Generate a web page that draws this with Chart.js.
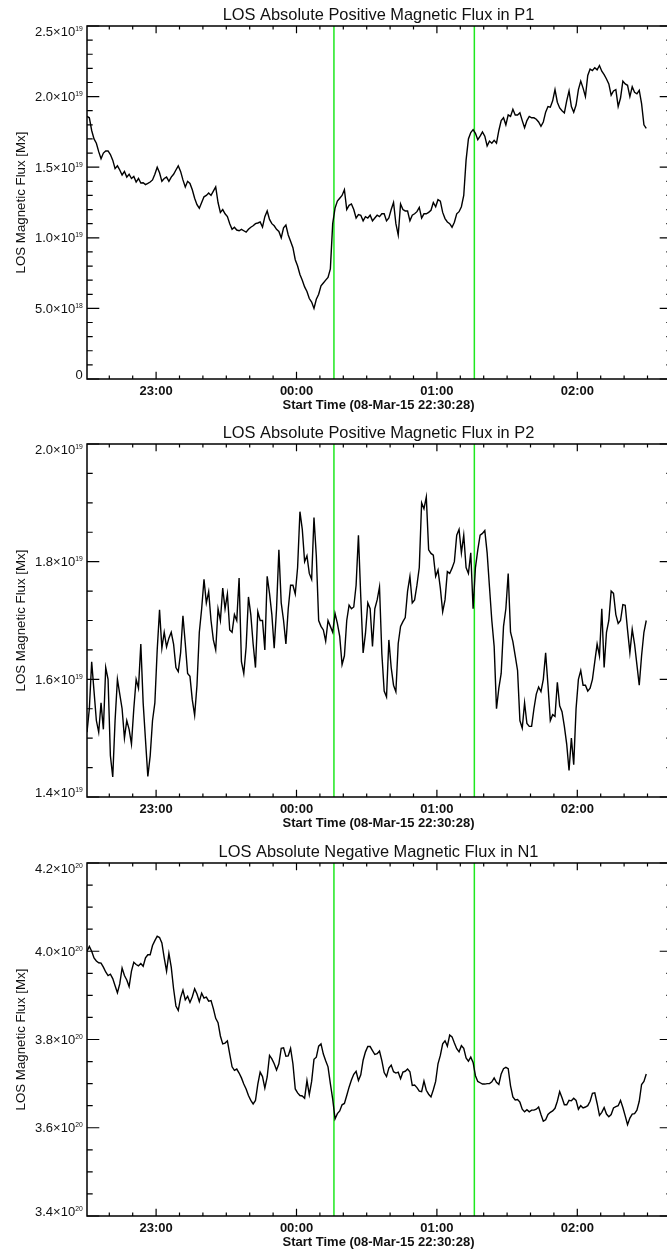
<!DOCTYPE html>
<html>
<head>
<meta charset="utf-8">
<script src="https://cdn.jsdelivr.net/npm/chart.js"></script>
<style>
  html, body { margin: 0; padding: 0; overflow: hidden; background: #fff; }
  canvas { position: absolute; left: 0; }
</style>
</head>
<body>
<canvas id="p1Chart" width="680" height="418" style="top:0px"></canvas>
<canvas id="p2Chart" width="680" height="418" style="top:418px"></canvas>
<canvas id="n1Chart" width="680" height="418" style="top:837px"></canvas>
<script>
// -------data------------

// one sample per minute, counted from the start time 22:30:28
const CADENCE = 1;
const minutes = [];
for (let i = 0; i < 240; i++) minutes.push(i * CADENCE);

const X_MAX = 250; // right edge of the plots, minutes after start

const startLabel = 'Start Time (08-Mar-15 22:30:28)';
const hourLabels = ['23:00', '00:00', '01:00', '02:00'];
const hourTicks = [29.53, 89.53, 149.53, 209.53];
const markerTimes = [105.53, 165.53]; // 00:16 and 01:16

// P1 flux, units of 1e19 Mx
const p1Flux = [
  1.86, 1.85, 1.76, 1.70, 1.67, 1.61, 1.56, 1.60, 1.615, 1.615,
  1.59, 1.55, 1.49, 1.51, 1.48, 1.445, 1.47, 1.43, 1.45, 1.42,
  1.435, 1.395, 1.42, 1.388, 1.39, 1.377, 1.385, 1.395, 1.41, 1.45,
  1.50, 1.46, 1.40, 1.42, 1.43, 1.40, 1.43, 1.45, 1.48, 1.51,
  1.47, 1.41, 1.36, 1.40, 1.385, 1.34, 1.28, 1.235, 1.21, 1.25,
  1.29, 1.30, 1.317, 1.30, 1.33, 1.36, 1.25, 1.18, 1.20, 1.17,
  1.15, 1.10, 1.06, 1.075, 1.055, 1.05, 1.06, 1.05, 1.04, 1.06,
  1.075, 1.085, 1.10, 1.105, 1.112, 1.076, 1.15, 1.19, 1.13, 1.10,
  1.085, 1.06, 1.045, 1.00, 1.07, 1.09, 1.02, 0.975, 0.93, 0.845,
  0.80, 0.74, 0.70, 0.652, 0.62, 0.57, 0.545, 0.50, 0.565, 0.60,
  0.66, 0.68, 0.70, 0.72, 0.78, 1.10, 1.21, 1.26, 1.28, 1.30,
  1.34, 1.20, 1.23, 1.24, 1.20, 1.14, 1.165, 1.16, 1.12, 1.15,
  1.14, 1.16, 1.12, 1.14, 1.16, 1.15, 1.17, 1.17, 1.12, 1.14,
  1.20, 1.25, 1.10, 1.02, 1.24, 1.20, 1.19, 1.19, 1.12, 1.16,
  1.17, 1.185, 1.215, 1.14, 1.17, 1.17, 1.18, 1.195, 1.25, 1.22,
  1.27, 1.26, 1.18, 1.136, 1.112, 1.10, 1.075, 1.11, 1.17, 1.185,
  1.22, 1.30, 1.55, 1.70, 1.745, 1.766, 1.74, 1.695, 1.72, 1.75,
  1.72, 1.65, 1.685, 1.67, 1.69, 1.67, 1.76, 1.83, 1.85, 1.80,
  1.87, 1.86, 1.91, 1.87, 1.87, 1.885, 1.83, 1.78, 1.83, 1.86,
  1.85, 1.85, 1.84, 1.82, 1.79, 1.82, 1.89, 1.93, 1.925, 1.97,
  2.05, 1.96, 1.92, 1.90, 1.885, 1.97, 2.04, 1.93, 1.89, 1.94,
  2.05, 2.11, 2.06, 2.00, 2.15, 2.195, 2.185, 2.205, 2.19, 2.22,
  2.18, 2.155, 2.125, 2.09, 2.01, 2.04, 2.05, 1.93, 1.99, 2.11,
  2.09, 2.08, 2.00, 2.07, 2.03, 2.02, 2.045, 1.95, 1.80, 1.775
];

// P2 flux, units of 1e19 Mx
const p2Flux = [
  1.51, 1.55, 1.63, 1.58, 1.53, 1.51, 1.56, 1.515, 1.62, 1.60,
  1.47, 1.434, 1.53, 1.60, 1.575, 1.55, 1.50, 1.53, 1.515, 1.49,
  1.55, 1.60, 1.585, 1.66, 1.56, 1.497, 1.435, 1.47, 1.53, 1.56,
  1.65, 1.718, 1.653, 1.68, 1.655, 1.67, 1.68, 1.66, 1.62, 1.613,
  1.645, 1.708, 1.661, 1.61, 1.605, 1.565, 1.539, 1.59, 1.68, 1.72,
  1.77, 1.73, 1.749, 1.70, 1.667, 1.65, 1.72, 1.70, 1.755, 1.72,
  1.745, 1.684, 1.68, 1.71, 1.70, 1.772, 1.63, 1.61, 1.655, 1.74,
  1.71, 1.66, 1.62, 1.715, 1.70, 1.70, 1.65, 1.775, 1.746, 1.71,
  1.653, 1.72, 1.82, 1.73, 1.70, 1.66, 1.72, 1.76, 1.76, 1.745,
  1.79, 1.885, 1.855, 1.80, 1.81, 1.78, 1.77, 1.875, 1.81, 1.70,
  1.69, 1.684, 1.665, 1.70, 1.69, 1.68, 1.712, 1.695, 1.673, 1.625,
  1.64, 1.70, 1.726, 1.72, 1.723, 1.76, 1.845, 1.74, 1.645, 1.678,
  1.73, 1.72, 1.656, 1.72, 1.735, 1.757, 1.644, 1.58, 1.57, 1.667,
  1.62, 1.59, 1.579, 1.661, 1.69, 1.698, 1.705, 1.75, 1.775, 1.73,
  1.735, 1.76, 1.79, 1.90, 1.89, 1.91, 1.82, 1.814, 1.811, 1.775,
  1.786, 1.755, 1.715, 1.735, 1.783, 1.78, 1.789, 1.80, 1.845, 1.855,
  1.815, 1.845, 1.79, 1.78, 1.815, 1.72, 1.79, 1.82, 1.845, 1.848,
  1.853, 1.815, 1.757, 1.70, 1.656, 1.55, 1.585, 1.61, 1.69, 1.72,
  1.78, 1.68, 1.664, 1.64, 1.615, 1.53, 1.517, 1.56, 1.525, 1.52,
  1.52, 1.55, 1.575, 1.587, 1.579, 1.60, 1.645, 1.59, 1.53, 1.54,
  1.537, 1.595, 1.555, 1.545, 1.52, 1.49, 1.445, 1.50, 1.455, 1.55,
  1.60, 1.615, 1.59, 1.59, 1.58, 1.585, 1.60, 1.63, 1.66, 1.64,
  1.72, 1.62, 1.68, 1.70, 1.75, 1.746, 1.71, 1.695, 1.70, 1.727,
  1.726, 1.684, 1.645, 1.685, 1.66, 1.625, 1.59, 1.64, 1.68, 1.70
];

// N1 flux, units of 1e20 Mx
const n1Flux = [
  4.00, 4.011, 4.00, 3.985, 3.978, 3.974, 3.973, 3.964, 3.953, 3.945,
  3.948, 3.938, 3.922, 3.906, 3.926, 3.962, 3.945, 3.935, 3.92, 3.955,
  3.975, 3.97, 3.967, 3.972, 3.966, 3.985, 3.992, 3.992, 4.013, 4.024,
  4.034, 4.031, 4.019, 3.985, 3.955, 3.995, 3.964, 3.915, 3.876, 3.866,
  3.895, 3.912, 3.89, 3.898, 3.884, 3.897, 3.915, 3.903, 3.886, 3.905,
  3.894, 3.896, 3.887, 3.888, 3.87, 3.848, 3.838, 3.808, 3.79, 3.792,
  3.797, 3.767, 3.738, 3.73, 3.733, 3.724, 3.713, 3.699, 3.688, 3.673,
  3.662, 3.654, 3.662, 3.699, 3.726, 3.716, 3.69, 3.715, 3.764, 3.756,
  3.745, 3.731, 3.745, 3.78, 3.781, 3.762, 3.763, 3.78, 3.745, 3.688,
  3.679, 3.673, 3.672, 3.667, 3.707, 3.675, 3.705, 3.755, 3.76, 3.785,
  3.79, 3.767, 3.752, 3.738, 3.70, 3.665, 3.62, 3.632, 3.638, 3.652,
  3.655, 3.673, 3.692, 3.708, 3.721, 3.728, 3.707, 3.72, 3.753, 3.772,
  3.784, 3.784, 3.775, 3.766, 3.768, 3.774, 3.752, 3.725, 3.716, 3.735,
  3.742, 3.727, 3.724, 3.726, 3.711, 3.726, 3.728, 3.733, 3.727, 3.696,
  3.697, 3.691, 3.683, 3.682, 3.706, 3.685, 3.676, 3.67, 3.686, 3.705,
  3.745, 3.764, 3.79, 3.797, 3.785, 3.81, 3.806, 3.792, 3.779, 3.772,
  3.786, 3.78, 3.758, 3.751, 3.76, 3.748, 3.718, 3.705, 3.702, 3.699,
  3.699, 3.70, 3.70, 3.704, 3.713, 3.703, 3.698, 3.722, 3.734, 3.737,
  3.734, 3.695, 3.67, 3.663, 3.664, 3.658, 3.642, 3.636, 3.641, 3.636,
  3.64, 3.64, 3.642, 3.647, 3.63, 3.615, 3.618, 3.63, 3.635, 3.638,
  3.644, 3.66, 3.682, 3.668, 3.652, 3.652, 3.662, 3.661, 3.667, 3.662,
  3.642, 3.65, 3.645, 3.647, 3.65, 3.66, 3.678, 3.679, 3.655, 3.628,
  3.635, 3.646, 3.631, 3.625, 3.63, 3.645, 3.648, 3.65, 3.662, 3.646,
  3.627, 3.607, 3.622, 3.631, 3.632, 3.64, 3.66, 3.698, 3.705, 3.722
];

// y tick values and their labels [mantissa, exponent]
const p1Ticks = [0, 0.5, 1.0, 1.5, 2.0, 2.5];
const p1TickLabels = [['0', ''], ['5.0\u00d710', '18'], ['1.0\u00d710', '19'], ['1.5\u00d710', '19'], ['2.0\u00d710', '19'], ['2.5\u00d710', '19']];
const p2Ticks = [1.4, 1.6, 1.8, 2.0];
const p2TickLabels = [['1.4\u00d710', '19'], ['1.6\u00d710', '19'], ['1.8\u00d710', '19'], ['2.0\u00d710', '19']];
const n1Ticks = [3.4, 3.6, 3.8, 4.0, 4.2];
const n1TickLabels = [['3.4\u00d710', '20'], ['3.6\u00d710', '20'], ['3.8\u00d710', '20'], ['4.0\u00d710', '20'], ['4.2\u00d710', '20']];

// -------axes drawn IDL style (ticks pointing in)------------

const FONT = '"Liberation Sans", Arial, Helvetica, sans-serif';

function idlAxes(p) {
  return {
    id: 'idlAxes',
    afterDraw(chart) {
      const ctx = chart.ctx;
      const a = chart.chartArea;
      const xs = chart.scales.x, ys = chart.scales.y;
      ctx.save();
      ctx.strokeStyle = '#000';
      ctx.lineWidth = 1.2;
      ctx.beginPath();
      // 10 minute ticks, longer on the hours
      for (let t = hourTicks[0] - 20; t < xs.max; t += 10) {
        const px = xs.getPixelForValue(t);
        const len = hourTicks.some(h => Math.abs(h - t) < 0.01) ? 7.3 : 3.4;
        ctx.moveTo(px, a.bottom); ctx.lineTo(px, a.bottom - len);
        ctx.moveTo(px, a.top); ctx.lineTo(px, a.top + len);
      }
      const n = Math.round((ys.max - ys.min) / p.minorStep);
      for (let i = 0; i <= n; i++) {
        const v = ys.min + i * p.minorStep;
        const py = ys.getPixelForValue(v);
        const len = p.ticks.some(m => Math.abs(m - v) < 1e-6) ? 12.3 : 5.7;
        ctx.moveTo(a.left, py); ctx.lineTo(a.left + len, py);
        ctx.moveTo(a.right, py); ctx.lineTo(a.right - len, py);
      }
      ctx.stroke();

      ctx.lineWidth = 1.5;
      ctx.strokeRect(a.left, a.top, a.right - a.left, a.bottom - a.top);

      ctx.fillStyle = '#111';
      const cx = 378.5;

      // title
      ctx.font = '16.4px ' + FONT;
      ctx.textAlign = 'center';
      ctx.textBaseline = 'alphabetic';
      ctx.fillText(p.title, cx, a.top - 6.3);

      // time labels
      ctx.font = 'bold 13px ' + FONT;
      hourTicks.forEach((t, i) => {
        ctx.fillText(hourLabels[i], xs.getPixelForValue(t), a.bottom + 16.3);
      });
      ctx.fillText(startLabel, cx, a.bottom + 30);

      // flux labels with exponent
      ctx.textAlign = 'right';
      p.ticks.forEach((v, i) => {
        const py = ys.getPixelForValue(v);
        let base = py + 4.6;
        if (i === p.ticks.length - 1) base = py + 9.8;
        if (i === 0) base = py;
        const lab = p.tickLabels[i];
        let ew = 0;
        if (lab[1]) {
          ctx.font = '6.8px ' + FONT;
          ew = ctx.measureText(lab[1]).width;
          ctx.fillText(lab[1], 82.7, base - 5.1);
        }
        ctx.font = '13px ' + FONT;
        ctx.fillText(lab[0], 82.7 - ew, base);
      });

      // y title
      ctx.translate(21.5, (a.top + a.bottom) / 2);
      ctx.rotate(-Math.PI / 2);
      ctx.textAlign = 'center';
      ctx.textBaseline = 'middle';
      ctx.font = '13.3px ' + FONT;
      ctx.fillText('LOS Magnetic Flux [Mx]', 0, 0);
      ctx.restore();
    }
  };
}

function makePanel(id, title, flux, yMin, yMax, ticks, tickLabels, minorStep) {
  const datasets = [{
    data: minutes.map((t, i) => ({ x: t, y: flux[i] })),
    borderColor: '#000',
    borderWidth: 1.4,
    pointRadius: 0,
    tension: 0
  }];
  markerTimes.forEach(t => {
    datasets.push({
      data: [{ x: t, y: yMin }, { x: t, y: yMax }],
      borderColor: '#1ee81e',
      borderWidth: 1.5,
      pointRadius: 0
    });
  });

  return new Chart(document.getElementById(id), {
    type: 'line',
    data: { datasets: datasets },
    options: {
      responsive: false,
      animation: false,
      devicePixelRatio: 1,
      layout: { padding: { left: 87, top: 26, right: 8, bottom: 39 } },
      scales: {
        x: { type: 'linear', min: 0, max: X_MAX, display: false },
        y: { type: 'linear', min: yMin, max: yMax, display: false }
      },
      plugins: {
        legend: { display: false },
        tooltip: { enabled: false }
      }
    },
    plugins: [idlAxes({ title: title, ticks: ticks, tickLabels: tickLabels, minorStep: minorStep })]
  });
}

// ---------P1------------
makePanel('p1Chart', 'LOS Absolute Positive Magnetic Flux in P1', p1Flux, 0, 2.5, p1Ticks, p1TickLabels, 0.1);

// ---------P2------------
makePanel('p2Chart', 'LOS Absolute Positive Magnetic Flux in P2', p2Flux, 1.4, 2.0, p2Ticks, p2TickLabels, 0.05);

// ---------N1------------
makePanel('n1Chart', 'LOS Absolute Negative Magnetic Flux in N1', n1Flux, 3.4, 4.2, n1Ticks, n1TickLabels, 0.05);
</script>
</body>
</html>
